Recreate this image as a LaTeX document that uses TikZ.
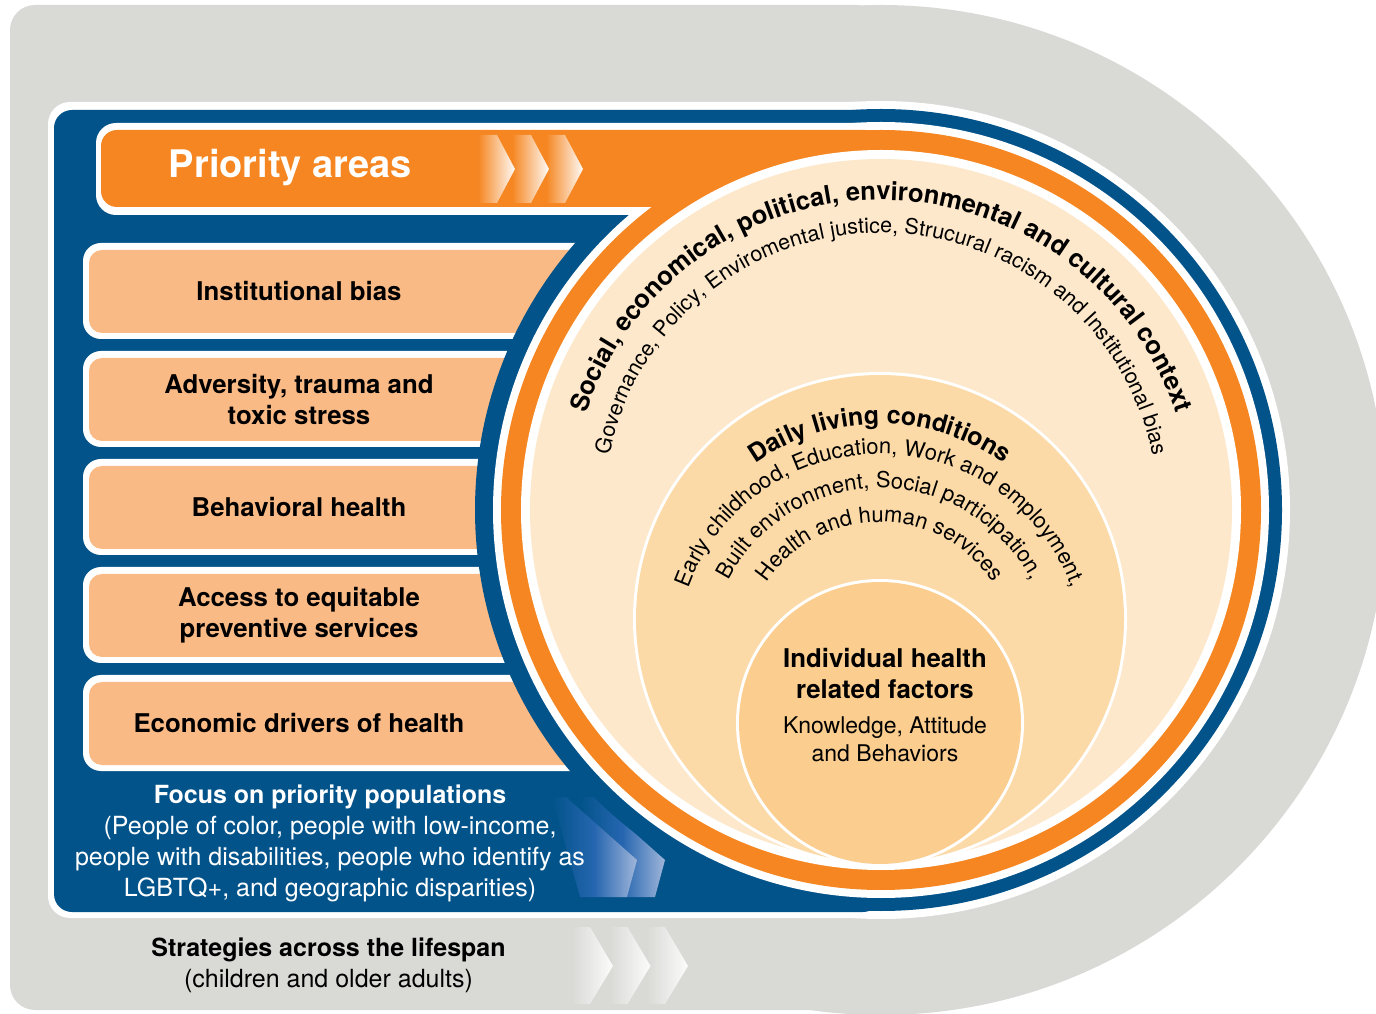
\documentclass[tikz,border=0pt]{standalone}
\usepackage{fontspec}
\setmainfont{TeX Gyre Heros}
\usetikzlibrary{decorations.text}
\definecolor{bggray}{RGB}{217,217,214}
\definecolor{panelblue}{RGB}{2,83,138}
\definecolor{barorange}{RGB}{245,134,33}
\definecolor{boxorange}{RGB}{250,186,133}
\definecolor{outercream}{RGB}{253,232,203}
\definecolor{dailytan}{RGB}{252,218,168}
\definecolor{indivtan}{RGB}{251,206,143}
\definecolor{chevmid}{RGB}{38,102,176}
\definecolor{chevblue}{RGB}{160,182,218}
\def\bigbold{\bfseries\fontsize{25.5}{30}\selectfont}
\def\dailybold{\bfseries\fontsize{25}{30}\selectfont}
\def\outerlight{\fontsize{21.5}{25}\selectfont}
\def\smalllight{\fontsize{22}{26}\selectfont}
\begin{document}
\begin{tikzpicture}[x=1pt,y=1pt]
    \tikzset{
        areatext/.style={font=\bfseries\fontsize{25.8}{31}\selectfont, align=center, text=black},
        arctext/.style={decorate, decoration={text along path, text align=center, text={#1}}},}
    \useasboundingbox (0,0) rectangle (1376,1013);
    \coordinate (C) at (881,503);
    % lifespan band
    \begin{scope}
        \clip (0,0) rectangle (1376,1013);
        \fill[bggray, rounded corners=25pt] (10,3) rectangle (881,1008);
        \fill[bggray] (C) circle[radius=505];
    \end{scope}
    \foreach \k in {2,1,0}
        \shade[left color=bggray, right color=white!92!bggray] (572+37.5*\k,86) -- ++(18,0) -- ++(23,-39) -- ++(-23,-38) -- ++(-18,0) -- cycle;
    % priority populations panel
    \fill[white, rounded corners=22pt] (48,95) rectangle (881,911);
    \fill[white] (C) circle[radius=409];
    \fill[panelblue, rounded corners=18pt] (54,101) rectangle (881,903);
    \fill[panelblue] (C) circle[radius=401];
    \foreach \k in {1,0}
        \shade[left color=panelblue, right color=chevblue, middle color=chevmid] (552+28*\k,216) -- ++(14,0) -- ++(71,-63) -- ++(-10,-37) -- ++(-47,0) -- cycle;
    % priority area boxes
    \foreach \k in {0,...,4}{
        \fill[white, rounded corners=18pt] (83,674-108*\k) rectangle (700,770-108*\k);
        \fill[boxorange, rounded corners=13pt] (89,680-108*\k) rectangle (700,763-108*\k);
    }
    \begin{scope}
        \clip (0,0) rectangle (700,1013);
        \fill[panelblue] (C) circle[radius=406];
    \end{scope}
    % priority areas bar and rings
    \fill[white, rounded corners=20pt] (96,798) rectangle (881,890);
    \fill[white] (C) circle[radius=388];
    \fill[barorange, rounded corners=16pt] (101,806) rectangle (881,883);
    \fill[barorange] (C) circle[radius=380];
    \fill[white] (C) circle[radius=360];
    \fill[outercream] (C) circle[radius=351];
    \fill[white] (880,394) circle[radius=247];
    \fill[dailytan] (880,394) circle[radius=244];
    \fill[white] (880,290) circle[radius=144];
    \fill[indivtan] (880,290) circle[radius=141];
    \foreach \k in {2,1,0}
        \shade[left color=barorange, right color=white!96!barorange] (478+34*\k,878) -- ++(19,0) -- ++(18,-34) -- ++(-18,-34) -- ++(-19,0) -- cycle;
    \node[font=\bfseries\fontsize{38}{44}\selectfont, text=white] (prio) at (290.5,845) {Priority areas};
    \foreach \k/\area in {0/{Institutional bias}, 1/{Adversity, trauma and\\toxic stress}, 2/{Behavioral health}, 3/{Access to equitable\\preventive services}, 4/{Economic drivers of health}}
        \node[areatext] (area\k) at (299,721.5-108*\k) {\area};
    \node[text=white, align=center, font=\fontsize{25}{31}\selectfont] (focus) at (330,169.5)
        {\textbf{Focus on priority populations}\\(People of color, people with low-income,\\people with disabilities, people who identify as\\LGBTQ+, and geographic disparities)};
    \node[align=center, font=\fontsize{25}{31}\selectfont] (lifespan) at (328.5,47.5)
        {\textbf{Strategies across the lifespan}\\(children and older adults)};
    % curved texts
    \path[arctext={|\bigbold|Social, economical, political, environmental and cultural context}]
        (C) ++(178:310) arc[start angle=178, end angle=2, radius=310];
    \path[arctext={|\outerlight|Governance, Policy, Enviromental justice, Strucural racism and Institutional bias}]
        (C) ++(179:277) arc[start angle=179, end angle=1, radius=277];
    \path[arctext={|\dailybold|Daily living conditions}]
        (880,373) ++(170:216) arc[start angle=170, end angle=10, radius=216];
    \path[arctext={|\smalllight|Early childhood, Education, Work and employment,}]
        (880,355) ++(178:204) arc[start angle=178, end angle=2, radius=204];
    \path[arctext={|\smalllight|Built environment, Social participation,}]
        (880,355) ++(178:170) arc[start angle=178, end angle=2, radius=170];
    \path[arctext={|\smalllight|Health and human services}]
        (880,355) ++(178:136) arc[start angle=178, end angle=2, radius=136];
    \node[font=\bfseries\fontsize{25.8}{31}\selectfont, align=center] (indiv) at (885,339.5) {Individual health\\related factors};
    \node[font=\fontsize{23}{28}\selectfont, align=center] (kab) at (885,274) {Knowledge, Attitude\\and Behaviors};
\end{tikzpicture}
\end{document}
